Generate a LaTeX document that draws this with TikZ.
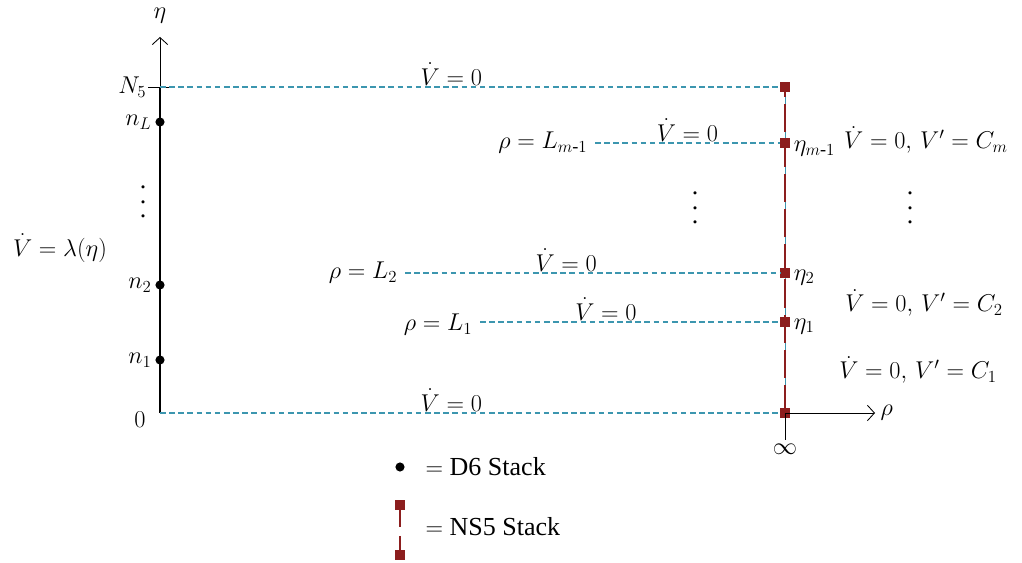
\documentclass[tikz,border=0pt]{standalone}
\usepackage{fontspec}
\setmainfont{Liberation Serif}
\usepackage{amsmath,amssymb}
\usepackage{xcolor}
\usetikzlibrary{positioning,arrows.meta}
\definecolor{bcyan}{RGB}{60,150,175}
\definecolor{nsred}{RGB}{140,30,30}

\begin{document}
\begin{tikzpicture}[
    lbl/.style={font=\fontsize{18.5}{22}\selectfont, inner sep=1pt, text=black},
    vdts/.style={font=\fontsize{18.5}{10.5}\selectfont, align=center, inner sep=0pt},
    axisline/.style={-{Straight Barb[length=5pt,width=11pt]}, line width=0.6pt},
    dline/.style={bcyan, dash pattern=on 4pt off 2.5pt, line width=0.8pt},
    nsline/.style={nsred, line width=1.4pt, dash pattern=on 20pt off 5pt},
    dsix/.style={circle, fill=black, inner sep=0pt, minimum size=6.5pt},
    nsq/.style={rectangle, fill=nsred, inner sep=0pt, minimum size=7pt}
]
\useasboundingbox (0,0) rectangle (25.55,14.05);

% Left axis
\coordinate (o) at (4,3.725);
\coordinate (top) at (4,11.875);
\coordinate (etaend) at (4,13.125);
\node[lbl] (eta) at (4,13.65) {$\eta$};
\draw[line width=1.6pt] (o) -- (top);
\draw[axisline] (top) -- (etaend);
\draw[line width=0.6pt] (3.7,11.875) -- (4.33,11.875);
\node[lbl, left=0.3cm of top] (nfive) {$N_5$};
\node[lbl] (zero) at (3.5,3.55) {$0$};

% D6 branes
\node[dsix] (nL) at (4,11.0) {};
\node[dsix] (ntwo) at (4,6.925) {};
\node[dsix] (none) at (4,5.05) {};
\node[lbl, left=0.05cm of nL] {$n_L$};
\node[lbl, left=0.05cm of ntwo] {$n_2$};
\node[lbl, left=0.05cm of none] {$n_1$};
\node[vdts] (ldots) at (3.575,9.0) {.\\.\\.};
\node[lbl] (lam) at (1.5,7.85) {$\dot V = \lambda(\eta)$};

% Right side: NS5 stack
\coordinate (r0) at (19.625,3.725);
\coordinate (rtop) at (19.625,11.875);
\draw[bcyan, line width=0.4pt] (r0) -- (rtop);
\draw[nsline] (r0) -- (rtop);
\node[nsq] (sq0) at (r0) {};
\node[nsq] (sqN) at (rtop) {};
\node[nsq] (sqm) at (19.625,10.475) {};
\node[nsq] (sqtwo) at (19.625,7.225) {};
\node[nsq] (sqone) at (19.625,6.0) {};
\node[lbl, right=0.05cm of sqm, yshift=-4pt] {$\eta_{m\text{-}1}$};
\node[lbl, right=0.05cm of sqtwo, yshift=-3pt] {$\eta_2$};
\node[lbl, right=0.05cm of sqone, yshift=-3pt] {$\eta_1$};

% rho axis
\coordinate (rhoend) at (21.875,3.725);
\draw[axisline] (sq0.center) -- (rhoend);
\node[lbl, right=0.1cm of rhoend] (rho) {$\rho$};
\coordinate (inftick) at (19.625,3.05);
\draw[line width=0.6pt] (sq0.center) -- (inftick);
\node[lbl, below=0.05cm of inftick] (inf) {$\infty$};

% Dashed boundaries
\coordinate (lmstart) at (14.875,10.475);
\coordinate (ltwostart) at (10.125,7.225);
\coordinate (lonestart) at (12.0,6.0);
\draw[dline] (top) -- (sqN) node[lbl, pos=0.47, above] {$\dot V = 0$};
\draw[dline] (o) -- (sq0) node[lbl, pos=0.47, above] {$\dot V = 0$};
\draw[dline] (lmstart) -- (sqm) node[lbl, pos=0.5, above] {$\dot V = 0$};
\draw[dline] (ltwostart) -- (sqtwo) node[lbl, pos=0.43, above] {$\dot V = 0$};
\draw[dline] (lonestart) -- (sqone) node[lbl, pos=0.42, above] {$\dot V = 0$};
\node[lbl, left=0.15cm of lmstart] {$\rho = L_{m\text{-}1}$};
\node[lbl, left=0.15cm of ltwostart] {$\rho = L_2$};
\node[lbl, left=0.15cm of lonestart, yshift=-2pt] {$\rho = L_1$};
\node[vdts] (mdots) at (17.375,8.85) {.\\.\\.};

% Right boundary conditions
\node[lbl] (bcm) at (23.15,10.55) {$\dot V = 0,\, V' = C_m$};
\node[vdts] (rdots) at (22.75,8.85) {.\\.\\.};
\node[lbl] (bctwo) at (23.1,6.475) {$\dot V = 0,\, V' = C_2$};
\node[lbl] (bcone) at (22.95,4.8) {$\dot V = 0,\, V' = C_1$};

% Legend
\node[dsix] (legdot) at (10.0,2.375) {};
\node[lbl, anchor=west] (legd) at (10.6,2.375) {$=$ D6 Stack};
\coordinate (legnsa) at (10.0,1.425);
\coordinate (legnsb) at (10.0,0.175);
\draw[nsline, dash pattern=on 16pt off 6pt] (legnsa) -- (legnsb);
\node[nsq] at (legnsa) {};
\node[nsq] at (legnsb) {};
\node[lbl, anchor=west] (legns) at (10.6,0.875) {$=$ NS5 Stack};
\end{tikzpicture}
\end{document}
